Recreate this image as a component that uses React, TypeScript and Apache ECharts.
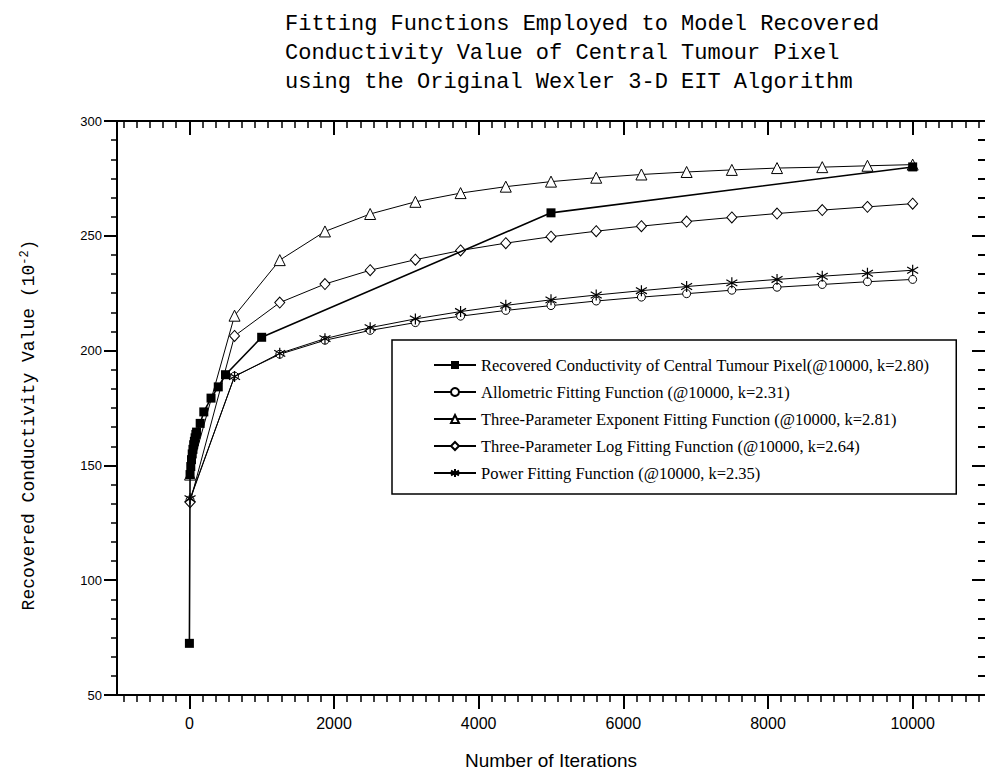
import React, { useEffect, useRef } from "react";
import * as echarts from "echarts";

const titleLines = [
  "Fitting Functions Employed to Model Recovered",
  "Conductivity Value of Central Tumour Pixel",
  "using the Original Wexler 3-D EIT Algorithm",
];

const seriesNames = [
  "Recovered Conductivity of Central Tumour Pixel(@10000, k=2.80)",
  "Allometric Fitting Function (@10000, k=2.31)",
  "Three-Parameter Exponent Fitting Function (@10000, k=2.81)",
  "Three-Parameter Log Fitting Function (@10000, k=2.64)",
  "Power Fitting Function (@10000, k=2.35)",
];

const xMajorTicks = [0, 2000, 4000, 6000, 8000, 10000];

const recoveredX = [1, 10, 20, 30, 40, 50, 60, 70, 80, 90, 100, 150, 200, 300, 400, 500, 1000, 5000, 10000];
const recoveredY = [72.5, 146, 149.5, 152.5, 155, 157, 159, 160.5, 162, 163.5, 164.5, 168.3, 173.3, 179.3, 184.2, 189.5, 205.8, 260, 280];

const fitX = [10, 625, 1250, 1875, 2500, 3125, 3750, 4375, 5000, 5625, 6250, 6875, 7500, 8125, 8750, 9375, 10000];
const allometricY = [135, 188.9, 198.4, 204.5, 208.8, 212.2, 215.0, 217.5, 219.6, 221.6, 223.3, 224.8, 226.3, 227.6, 228.8, 230.0, 231];
const exponentY = [146, 215.2, 239.4, 251.9, 259.5, 264.8, 268.6, 271.4, 273.6, 275.3, 276.7, 277.8, 278.7, 279.5, 279.9, 280.5, 281];
const logY = [134, 206.4, 220.9, 229.0, 235.0, 239.6, 243.6, 246.8, 249.6, 252.0, 254.2, 256.2, 258.0, 259.7, 261.2, 262.6, 264];
const powerY = [135.5, 188.7, 198.8, 205.2, 210.0, 213.8, 217.0, 219.7, 222.1, 224.2, 226.1, 227.9, 229.5, 231.0, 232.4, 233.7, 235];

const X_MIN = -1000;
const X_MAX = 11000;

function minorTicks(): number[] {
  const out: number[] = [];
  const step = 2000 / 11;
  for (let m = -2000; m <= 10000; m += 2000) {
    for (let j = 1; j <= 10; j++) {
      const v = m + j * step;
      if (v > X_MIN && v < X_MAX) out.push(v);
    }
  }
  return out;
}

const pairs = (xs: number[], ys: number[]) => xs.map((x, i) => [x, ys[i]]);

const STAR = "path://M0,2.1L10,7.9M0,7.9L10,2.1M5,0L5,10";

export default function App() {
  const ref = useRef<HTMLDivElement>(null);
  useEffect(() => {
    if (!ref.current) return;
    const chart = echarts.init(ref.current, null, { renderer: "svg" });
    const minors = minorTicks();
    const black = "#000";
    const hollow = { color: "#fff", borderColor: black, borderWidth: 1 };
    const baseLine = (name: string, data: number[][], extra: any) => ({
      name,
      type: "line",
      data,
      xAxisIndex: 0,
      yAxisIndex: 0,
      lineStyle: { color: black, width: 1 },
      showSymbol: true,
      ...extra,
    });
    const axLine = (show: boolean) => ({ show, onZero: false, lineStyle: { color: black, width: 2 } });
    chart.setOption({
      animation: false,
      backgroundColor: "#fff",
      grid: { left: 117, top: 121, right: -4, bottom: 82, containLabel: false },
      graphic: [
        {
          type: "text",
          left: 285,
          top: 10,
          style: {
            text: titleLines.join("\n"),
            font: '22px "Liberation Mono"',
            lineHeight: 29,
            fill: black,
          },
        },
        {
          type: "text",
          x: 29,
          y: 425,
          rotation: Math.PI / 2,
          style: {
            text: "{a|Recovered Conductivity Value (10}{s|-2}{a|)}",
            align: "center",
            verticalAlign: "middle",
            fill: black,
            rich: {
              a: { fontFamily: "Liberation Mono", fontSize: 18, lineHeight: 20, fill: black },
              s: { fontFamily: "Liberation Mono", fontSize: 12, lineHeight: 20, verticalAlign: "top", fill: black },
            },
          },
        },
      ],
      legend: {
        show: true,
        orient: "vertical",
        left: 392,
        top: 340,
        data: seriesNames,
        selectedMode: false,
        itemWidth: 42,
        itemHeight: 10,
        itemGap: 9,
        padding: [16, 27, 12, 41],
        borderColor: black,
        borderWidth: 1.5,
        backgroundColor: "#fff",
        textStyle: { fontFamily: "Liberation Serif", fontSize: 16.5, color: black, lineHeight: 18 },
      },
      xAxis: [
        {
          type: "value",
          min: X_MIN,
          max: X_MAX,
          position: "bottom",
          name: "Number of Iterations",
          nameLocation: "middle",
          nameGap: 56,
          nameTextStyle: { fontFamily: "Liberation Sans", fontSize: 19, color: black },
          axisLine: axLine(true),
          axisTick: { show: true, inside: false, length: 14, customValues: xMajorTicks, lineStyle: { color: black, width: 2 } },
          axisLabel: {
            show: true,
            customValues: xMajorTicks,
            margin: 20,
            fontFamily: "Liberation Sans",
            fontSize: 16,
            color: black,
            formatter: (v: number) => String(Math.round(v)),
          },
          splitLine: { show: false },
        },
        {
          type: "value",
          min: X_MIN,
          max: X_MAX,
          position: "bottom",
          axisLine: axLine(false),
          axisTick: { show: true, inside: false, length: 7, customValues: minors, lineStyle: { color: black, width: 1.5 } },
          axisLabel: { show: false },
          splitLine: { show: false },
        },
        {
          type: "value",
          min: X_MIN,
          max: X_MAX,
          position: "top",
          axisLine: axLine(true),
          axisTick: { show: true, inside: true, length: 14, customValues: xMajorTicks, lineStyle: { color: black, width: 2 } },
          axisLabel: { show: false },
          splitLine: { show: false },
        },
        {
          type: "value",
          min: X_MIN,
          max: X_MAX,
          position: "top",
          axisLine: axLine(false),
          axisTick: { show: true, inside: true, length: 7, customValues: minors, lineStyle: { color: black, width: 1.5 } },
          axisLabel: { show: false },
          splitLine: { show: false },
        },
      ],
      yAxis: [
        {
          type: "value",
          min: 50,
          max: 300,
          interval: 50,
          position: "left",
          axisLine: axLine(true),
          axisTick: { show: true, inside: false, length: 13, lineStyle: { color: black, width: 2 } },
          minorTick: { show: true, splitNumber: 6, length: 6, lineStyle: { color: black, width: 1.5 } },
          axisLabel: { show: true, margin: 15, fontFamily: "Liberation Sans", fontSize: 13, color: black },
          splitLine: { show: false },
        },
        {
          type: "value",
          min: 50,
          max: 300,
          interval: 50,
          position: "right",
          axisLine: axLine(false),
          axisTick: { show: true, inside: true, length: 13, lineStyle: { color: black, width: 2 } },
          minorTick: { show: true, splitNumber: 6, length: 7, lineStyle: { color: black, width: 2 } },
          axisLabel: { show: false },
          splitLine: { show: false },
        },
      ],
      series: [
        baseLine(seriesNames[1], pairs(fitX, allometricY), { symbol: "circle", symbolSize: 8, itemStyle: hollow, z: 2 }),
        baseLine(seriesNames[2], pairs(fitX, exponentY), { symbol: "triangle", symbolSize: 11, itemStyle: hollow, z: 2 }),
        baseLine(seriesNames[3], pairs(fitX, logY), { symbol: "diamond", symbolSize: [10, 11], itemStyle: hollow, z: 2 }),
        baseLine(seriesNames[4], pairs(fitX, powerY), {
          symbol: STAR,
          symbolSize: 11,
          symbolKeepAspect: true,
          itemStyle: { color: "none", borderColor: black, borderWidth: 1.2 },
          z: 3,
        }),
        baseLine(seriesNames[0], pairs(recoveredX, recoveredY), {
          symbol: "rect",
          symbolSize: 9,
          itemStyle: { color: black, borderColor: black, borderWidth: 0 },
          lineStyle: { color: black, width: 1.6 },
          z: 4,
        }),
      ],
    });
    return () => chart.dispose();
  }, []);
  return (
    <div
      ref={ref}
      style={{ position: "absolute", left: 0, top: 0, width: 985, height: 777, background: "#fff" }}
    />
  );
}
